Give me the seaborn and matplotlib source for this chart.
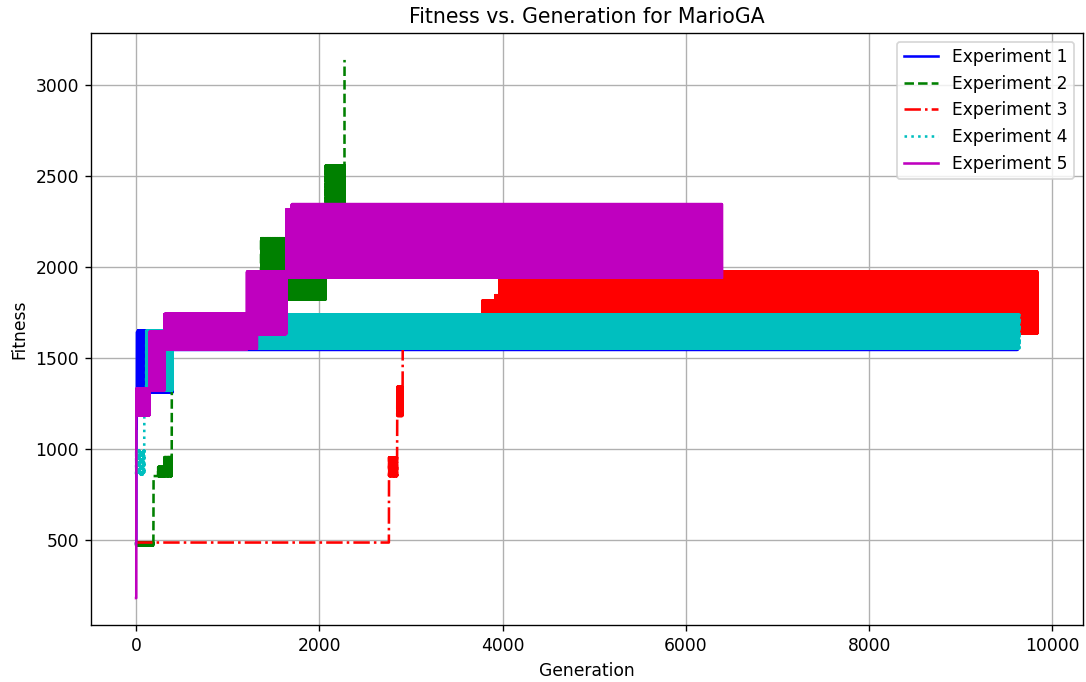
import numpy as np
import pandas as pd
import matplotlib
matplotlib.use('Agg')
import matplotlib.pyplot as plt
import seaborn as sns

# fitness bands: each experiment is a list of segments
# (start generation, low fitness, high fitness); the run flips between low and high
exp1_start = [0, 3, 8, 20, 400]
exp1_low = [480, 1110, 1640, 1310, 1543]
exp1_high = [480, 1110, 1640, 1650, 1735]
exp1_end = 9620

exp2_start = [0, 190, 240, 310, 390, 1364, 1640, 2070, 2275]
exp2_low = [468, 850, 850, 850, 1550, 1830, 1820, 2100, 3135]
exp2_high = [485, 850, 900, 954, 1735, 2156, 2150, 2556, 3135]
exp2_end = 2276

exp3_start = [0, 2760, 2850, 2910, 3780, 3920, 3965]
exp3_low = [485, 850, 1180, 1550, 1560, 1560, 1633]
exp3_high = [485, 953, 1340, 1735, 1815, 1843, 1972]
exp3_end = 9838

exp4_start = [0, 90, 110, 400]
exp4_low = [860, 1180, 1320, 1550]
exp4_high = [990, 1330, 1650, 1738]
exp4_end = 9640

exp5_start = [0, 3, 150, 310, 1210, 1320, 1640, 1700]
exp5_low = [180, 1185, 1320, 1545, 1550, 1630, 1940, 1940]
exp5_high = [180, 1330, 1645, 1740, 1972, 1972, 2315, 2343]
exp5_end = 6395


def expand(starts, lows, highs, end):
    gens, fits = [], []
    bounds = starts[1:] + [end]
    for s, e, lo, hi in zip(starts, bounds, lows, highs):
        for g in range(s, e):
            gens.append(g)
            fits.append(lo if g % 2 == 0 else hi)
    return pd.DataFrame({'Generation': gens, 'Fitness': fits})


runs = [
    ('Experiment 1', expand(exp1_start, exp1_low, exp1_high, exp1_end), 'b', '-'),
    ('Experiment 2', expand(exp2_start, exp2_low, exp2_high, exp2_end), 'g', '--'),
    ('Experiment 3', expand(exp3_start, exp3_low, exp3_high, exp3_end), 'r', '-.'),
    ('Experiment 4', expand(exp4_start, exp4_low, exp4_high, exp4_end), 'c', ':'),
    ('Experiment 5', expand(exp5_start, exp5_low, exp5_high, exp5_end), 'm', '-'),
]

fig, ax = plt.subplots(figsize=(1086 / 123, 682 / 123), dpi=123)
fig.subplots_adjust(left=0.0838, right=0.9968, bottom=0.0836, top=0.9516)

for name, df, col, ls in runs:
    sns.lineplot(data=df, x='Generation', y='Fitness', color=col, linestyle=ls,
                 linewidth=1.5, estimator=None, label=name, ax=ax)

ax.set_title('Fitness vs. Generation for MarioGA')
ax.set_xlabel('Generation')
ax.set_ylabel('Fitness')
ax.grid(True)
ax.legend(loc='upper right')

plt.savefig('out.png', dpi=123)
